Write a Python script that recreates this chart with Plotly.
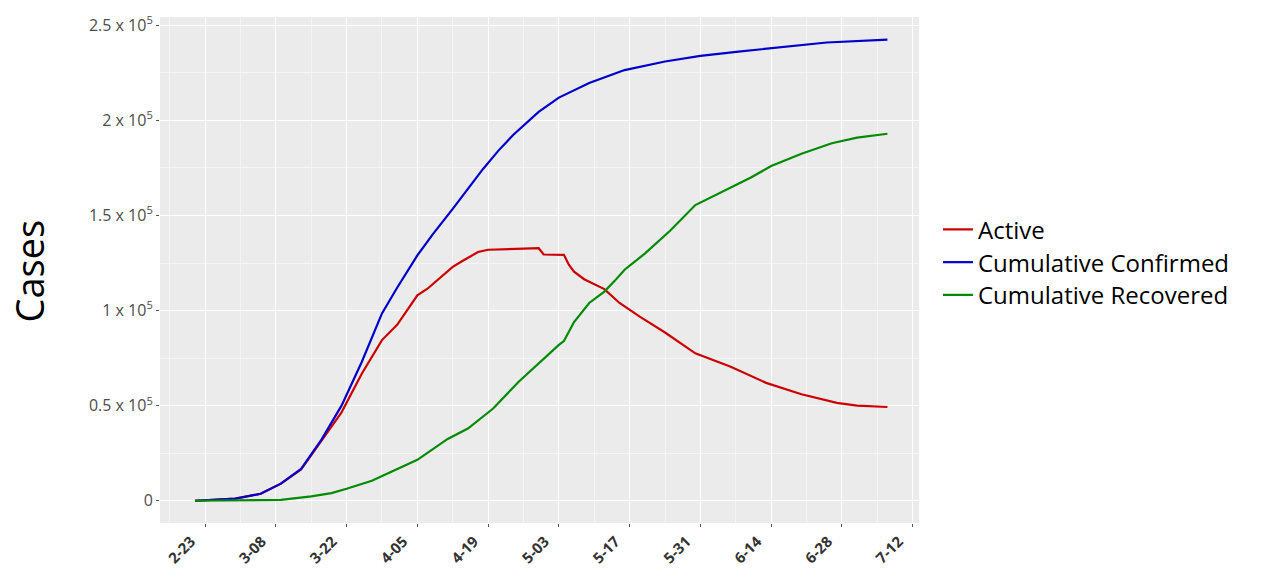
import plotly.graph_objects as go

# ---- data ----
confirmed_dates = ["2020-02-21", "2020-02-29", "2020-03-05", "2020-03-09", "2020-03-13",
                   "2020-03-17", "2020-03-21", "2020-03-25", "2020-03-29", "2020-04-01",
                   "2020-04-05", "2020-04-08", "2020-04-12", "2020-04-15", "2020-04-18",
                   "2020-04-21", "2020-04-24", "2020-04-29", "2020-05-03", "2020-05-09",
                   "2020-05-16", "2020-05-24", "2020-05-31", "2020-06-08", "2020-06-17",
                   "2020-06-25", "2020-07-07"]
confirmed_vals = [0, 1100, 3700, 9000, 16700,
                  32000, 50000, 73000, 98500, 112000,
                  129000, 140000, 153500, 164000, 174500,
                  184000, 192500, 204500, 212000, 219700,
                  226500, 231000, 234000, 236300, 238700,
                  241000, 242500]

active_dates = ["2020-02-21", "2020-02-29", "2020-03-05", "2020-03-09", "2020-03-13",
                "2020-03-17", "2020-03-21", "2020-03-25", "2020-03-29", "2020-04-01",
                "2020-04-05", "2020-04-07", "2020-04-12", "2020-04-14", "2020-04-17",
                "2020-04-19", "2020-04-24", "2020-04-29", "2020-04-30", "2020-05-04",
                "2020-05-05", "2020-05-06", "2020-05-08", "2020-05-12", "2020-05-15",
                "2020-05-19", "2020-05-24", "2020-05-30", "2020-06-06", "2020-06-13",
                "2020-06-20", "2020-06-27", "2020-07-01", "2020-07-07"]
active_vals = [0, 1100, 3700, 9000, 16500,
               31500, 46500, 66800, 84500, 92500,
               108000, 111500, 123000, 126200, 130800,
               132000, 132500, 132800, 129500, 129300,
               124000, 120500, 116500, 111300, 104000,
               96800, 88500, 77500, 70500, 62000,
               56000, 51500, 50000, 49300]

recovered_dates = ["2020-02-21", "2020-03-09", "2020-03-15", "2020-03-19", "2020-03-22",
                   "2020-03-27", "2020-04-05", "2020-04-11", "2020-04-15", "2020-04-20",
                   "2020-04-25", "2020-04-29", "2020-05-03", "2020-05-04", "2020-05-05",
                   "2020-05-06", "2020-05-09", "2020-05-12", "2020-05-14", "2020-05-16",
                   "2020-05-20", "2020-05-25", "2020-05-30", "2020-06-02", "2020-06-06",
                   "2020-06-10", "2020-06-14", "2020-06-20", "2020-06-26", "2020-07-01",
                   "2020-07-07"]
recovered_vals = [0, 500, 2300, 4000, 6300,
                  10500, 21500, 32500, 38000, 48500,
                  62500, 72500, 82000, 84000, 89000,
                  94000, 104000, 110000, 115500, 121500,
                  130000, 142000, 155500, 159500, 164500,
                  170000, 176000, 182500, 188000, 191000,
                  193000]

x_tick_vals = ["2020-02-23", "2020-03-08", "2020-03-22", "2020-04-05", "2020-04-19",
               "2020-05-03", "2020-05-17", "2020-05-31", "2020-06-14", "2020-06-28",
               "2020-07-12"]
x_tick_text = ["2-23", "3-08", "3-22", "4-05", "4-19", "5-03", "5-17", "5-31",
               "6-14", "6-28", "7-12"]
x_minor_vals = ["2020-02-16", "2020-03-01", "2020-03-15", "2020-03-29", "2020-04-12",
                "2020-04-26", "2020-05-10", "2020-05-24", "2020-06-07", "2020-06-21",
                "2020-07-05"]
y_tick_vals = [0, 50000, 100000, 150000, 200000, 250000]
y_tick_text = ["0", "0.5 x 10<sup>5</sup>", "1 x 10<sup>5</sup>", "1.5 x 10<sup>5</sup>",
               "2 x 10<sup>5</sup>", "2.5 x 10<sup>5</sup>"]
y_minor_vals = [25000, 75000, 125000, 175000, 225000]
y_title = "Cases"

series = [
    ("Active", active_dates, active_vals, "#CD0000", "legend", 0.5793),
    ("Cumulative Confirmed", confirmed_dates, confirmed_vals, "#0000CD", "legend2", 0.5147),
    ("Cumulative Recovered", recovered_dates, recovered_vals, "#008B00", "legend3", 0.4501),
]

fig = go.Figure()
legend_layout = {}
for name, xs, ys, color, leg, ly in series:
    fig.add_trace(go.Scatter(x=xs, y=ys, mode="lines", name=name, legend=leg,
                             line=dict(color=color, width=2.2)))
    legend_layout[leg] = dict(x=1.025, y=ly, xanchor="left", yanchor="middle",
                              font=dict(family="Open Sans", size=24, color="black"),
                              itemwidth=30, bgcolor="rgba(0,0,0,0)")

fig.update_layout(
    width=1270, height=579,
    margin=dict(l=160, r=351, t=12, b=56),
    paper_bgcolor="white",
    plot_bgcolor="#EBEBEB",
    font=dict(family="Open Sans", color="#4D4D4D"),
    showlegend=True,
    **legend_layout,
)
fig.add_annotation(text=y_title, xref="paper", yref="paper", x=-0.1726, y=0.499,
                   xanchor="center", yanchor="middle", textangle=-90, showarrow=False,
                   font=dict(family="Open Sans", size=38, color="black"))
fig.update_xaxes(
    type="date",
    range=["2020-02-14 02:00", "2020-07-13 06:00"],
    tickmode="array", tickvals=x_tick_vals, ticktext=x_tick_text,
    tickangle=-45,
    tickfont=dict(family="Open Sans", size=15, color="#333333", weight="bold"),
    ticklabelshift=-14,
    ticks="outside", ticklen=3, tickcolor="#555555", tickwidth=1,
    showgrid=True, gridcolor="white", gridwidth=1.2,
    minor=dict(tickvals=x_minor_vals, showgrid=True, gridcolor="#F5F5F5", gridwidth=0.6, ticks=""),
    zeroline=False, showline=False,
)
fig.update_yaxes(
    range=[-11700, 254400],
    tickmode="array", tickvals=y_tick_vals, ticktext=y_tick_text,
    tickfont=dict(family="Open Sans", size=16, color="#4D4D4D"),
    ticks="outside", ticklen=3, tickcolor="#555555", tickwidth=1,
    showgrid=True, gridcolor="white", gridwidth=1.2,
    minor=dict(tickvals=y_minor_vals, showgrid=True, gridcolor="#F5F5F5", gridwidth=0.6, ticks=""),
    zeroline=False, showline=False,
)

fig.write_html("out.html")
